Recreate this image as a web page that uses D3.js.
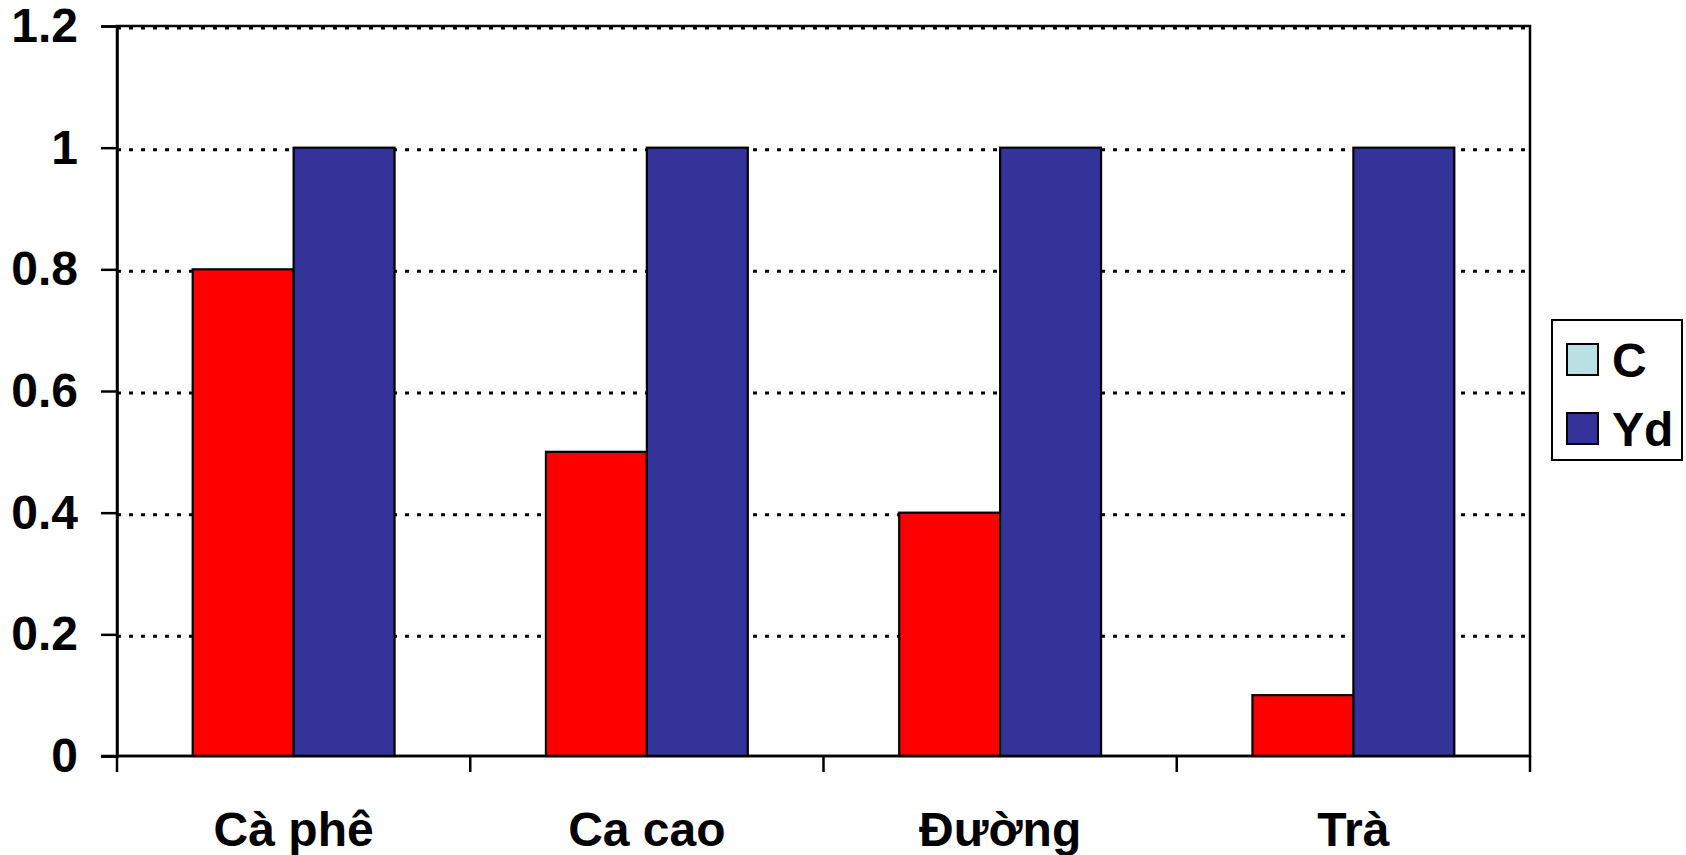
<!DOCTYPE html>
<html>
<head>
<meta charset="utf-8">
<script src="https://cdn.jsdelivr.net/npm/d3@7"></script>
<style>
  html, body { margin: 0; padding: 0; background: #fff; }
  svg { display: block; font-family: "Liberation Sans", Arial, sans-serif; font-weight: bold; }
</style>
</head>
<body>
<svg id="chart" width="1686" height="855"></svg>
<script>
const categories = ["Cà phê", "Ca cao", "Đường", "Trà"];
const seriesNames = ["C", "Yd"];
const valuesC = [0.8, 0.5, 0.4, 0.1];
const valuesYd = [1, 1, 1, 1];
const yTicks = [0, 0.2, 0.4, 0.6, 0.8, 1, 1.2];

const barColors = { C: "#FF0000", Yd: "#333399" };
const legendColors = { C: "#BBE0E3", Yd: "#333399" };

const W = 1686, H = 855;
const plot = { left: 117, right: 1530, top: 26, bottom: 756 };
const fontSize = 48;

const svg = d3.select("#chart");

const x = d3.scaleBand()
  .domain(categories)
  .range([plot.left, plot.right])
  .padding(0);

const xs = d3.scaleBand()
  .domain(seriesNames)
  .range([0, x.bandwidth()])
  .paddingInner(0)
  .paddingOuter(0.75);

const y = d3.scaleLinear()
  .domain([0, 1.2])
  .range([plot.bottom, plot.top]);

const rows = categories.map((c, i) => ({ cat: c, C: valuesC[i], Yd: valuesYd[i] }));

// plot frame (top and right sides visible)
svg.append("rect")
  .attr("x", plot.left)
  .attr("y", plot.top)
  .attr("width", plot.right - plot.left)
  .attr("height", plot.bottom - plot.top)
  .attr("fill", "none")
  .attr("stroke", "#000")
  .attr("stroke-width", 2.5);

// dotted gridlines
svg.append("g")
  .selectAll("line")
  .data(yTicks.filter(d => d > 0))
  .join("line")
  .attr("x1", plot.left)
  .attr("x2", plot.right)
  .attr("y1", d => y(d) + 2)
  .attr("y2", d => y(d) + 2)
  .attr("stroke", "#000")
  .attr("stroke-width", 3)
  .attr("stroke-dasharray", "4 8");

// bars
const groups = svg.append("g")
  .selectAll("g")
  .data(rows)
  .join("g")
  .attr("transform", d => `translate(${x(d.cat)},0)`);

groups.selectAll("rect")
  .data(d => seriesNames.map(s => ({ key: s, value: d[s] })))
  .join("rect")
  .attr("x", d => xs(d.key))
  .attr("y", d => y(d.value))
  .attr("width", xs.bandwidth())
  .attr("height", d => y(0) - y(d.value))
  .attr("fill", d => barColors[d.key])
  .attr("stroke", "#000")
  .attr("stroke-width", 2.2);

// y axis
const yAxis = svg.append("g")
  .attr("transform", `translate(${plot.left},0)`)
  .call(d3.axisLeft(y).tickValues(yTicks).tickFormat(d3.format("~g")).tickSize(16).tickPadding(23));
yAxis.select(".domain").attr("stroke", "#000").attr("stroke-width", 2.5);
yAxis.selectAll(".tick line").attr("stroke", "#000").attr("stroke-width", 2.5);
yAxis.selectAll(".tick text")
  .attr("font-size", fontSize)
  .attr("font-weight", "bold")
  .attr("font-family", "'Liberation Sans', Arial, sans-serif")
  .attr("fill", "#000");

// x axis line
svg.append("line")
  .attr("x1", plot.left - 16)
  .attr("x2", plot.right)
  .attr("y1", plot.bottom)
  .attr("y2", plot.bottom)
  .attr("stroke", "#000")
  .attr("stroke-width", 2.5);

// x boundary ticks
const boundaries = categories.map(c => x(c)).concat([x.range()[1]]);
svg.append("g")
  .selectAll("line")
  .data(boundaries)
  .join("line")
  .attr("x1", d => d)
  .attr("x2", d => d)
  .attr("y1", plot.bottom)
  .attr("y2", plot.bottom + 16)
  .attr("stroke", "#000")
  .attr("stroke-width", 2.5);

// x labels
svg.append("g")
  .selectAll("text")
  .data(categories)
  .join("text")
  .attr("x", d => x(d) + x.bandwidth() / 2)
  .attr("y", 846)
  .attr("text-anchor", "middle")
  .attr("font-size", fontSize)
  .attr("fill", "#000")
  .text(d => d);

// legend
const legend = svg.append("g").attr("transform", "translate(1552,320)");
legend.append("rect")
  .attr("width", 130)
  .attr("height", 140)
  .attr("fill", "#fff")
  .attr("stroke", "#000")
  .attr("stroke-width", 2);

const items = legend.selectAll("g.item")
  .data(seriesNames)
  .join("g")
  .attr("class", "item")
  .attr("transform", (d, i) => `translate(15,${24 + i * 69})`);

items.append("rect")
  .attr("width", 31)
  .attr("height", 31)
  .attr("fill", d => legendColors[d])
  .attr("stroke", "#000")
  .attr("stroke-width", 2);

items.append("text")
  .attr("x", 45)
  .attr("y", 33)
  .attr("font-size", fontSize)
  .attr("fill", "#000")
  .text(d => d);
</script>
</body>
</html>
